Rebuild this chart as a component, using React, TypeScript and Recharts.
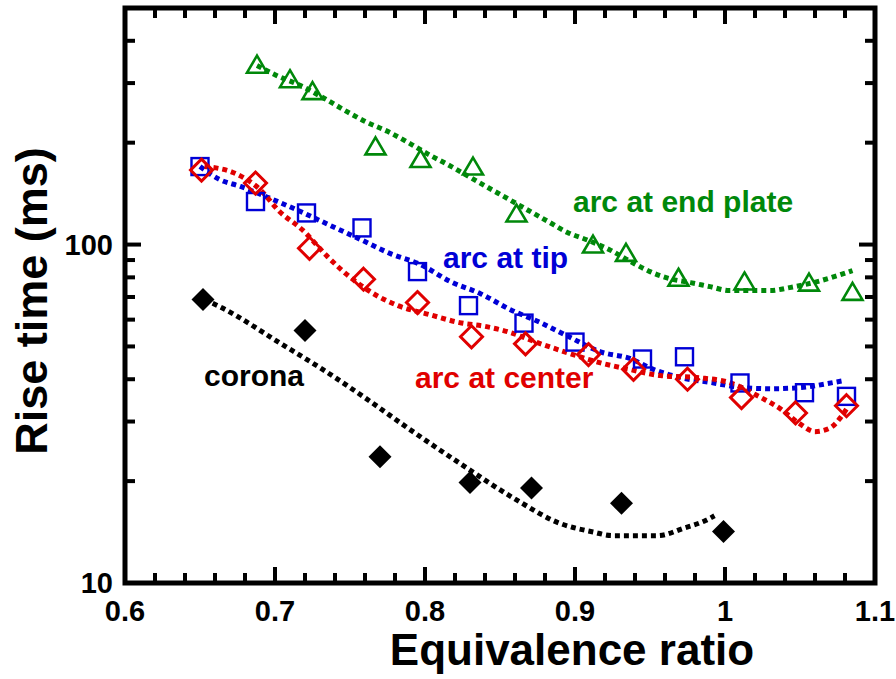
import {
  ComposedChart,
  Line,
  Scatter,
  XAxis,
  YAxis,
  Customized,
} from "recharts"

// measured data (equivalence ratio vs rise time, ms)
const phiEnd = [0.688, 0.71, 0.725, 0.767, 0.797, 0.832, 0.861, 0.912, 0.934, 0.969, 1.013, 1.056, 1.085]
const riseEnd = [340, 308, 284, 195, 179, 170, 123.5, 100, 94.5, 79.8, 77.8, 77.2, 72.5]

const phiTip = [0.65, 0.687, 0.721, 0.758, 0.795, 0.829, 0.866, 0.9, 0.945, 0.973, 1.01, 1.053, 1.081]
const riseTip = [170, 134, 124, 112, 83.2, 66, 58.6, 51.5, 45.9, 46.6, 39, 36.5, 35.6]

const phiCenter = [0.651, 0.687, 0.723, 0.759, 0.795, 0.831, 0.867, 0.909, 0.939, 0.975, 1.011, 1.047, 1.081]
const riseCenter = [166, 152, 97.5, 79, 67.4, 53.4, 50.9, 47.3, 42.8, 40, 35.3, 31.8, 33.4]

const phiCorona = [0.652, 0.72, 0.77, 0.83, 0.871, 0.931, 0.999]
const riseCorona = [68.8, 55.7, 23.6, 19.8, 19.1, 17.2, 14.2]

// fitted trend curves
const fitEndX = [0.688, 0.701, 0.717, 0.735, 0.748, 0.761, 0.775, 0.789, 0.802, 0.815, 0.829, 0.842, 0.855, 0.869, 0.882, 0.895, 0.909, 0.923, 0.937, 0.95, 0.963, 0.977, 0.99, 1.003, 1.03, 1.043, 1.059, 1.077, 1.085]
const fitEndY = [338, 316, 295, 267, 247, 230, 216, 200, 185, 172.5, 159, 147.4, 136.8, 126.1, 117, 108.6, 102.8, 96.6, 89.1, 83.2, 79.3, 77.2, 75.1, 73.1, 73.1, 74.6, 77.2, 81.5, 83.8]

const fitTipX = [0.65, 0.663, 0.677, 0.697, 0.717, 0.737, 0.757, 0.777, 0.797, 0.817, 0.837, 0.857, 0.877, 0.897, 0.917, 0.937, 0.951, 0.971, 0.991, 1.011, 1.031, 1.051, 1.072, 1.079]
const fitTipY = [170, 155.7, 148.5, 136.8, 125.2, 113.8, 103.5, 94, 87.3, 77.7, 71.6, 64.2, 58.8, 53.1, 48.2, 46, 43, 40.4, 39.1, 37.8, 37.5, 37.8, 39.1, 39.6]

const fitCenterX = [0.653, 0.672, 0.69, 0.703, 0.718, 0.735, 0.748, 0.768, 0.782, 0.803, 0.823, 0.841, 0.855, 0.875, 0.895, 0.917, 0.937, 0.957, 0.983, 1.003, 1.023, 1.037, 1.05, 1.06, 1.07, 1.077, 1.082]
const fitCenterY = [170, 163.3, 145.4, 125.2, 110.8, 92.1, 81.5, 70.6, 66, 62.1, 58.8, 57.2, 55.3, 51.3, 47.9, 44.7, 42.7, 41, 40.4, 39.1, 35.5, 32.7, 29.5, 28, 28.7, 30.8, 33.2]

const fitCoronaX = [0.653, 0.663, 0.705, 0.732, 0.759, 0.792, 0.825, 0.861, 0.89, 0.912, 0.925, 0.955, 0.973, 0.987, 0.993]
const fitCoronaY = [68.8, 65.6, 50.6, 42.7, 35.5, 28, 22.3, 17.6, 15, 14.15, 13.8, 13.8, 14.55, 15.3, 15.8]

const xTicks = [0.6, 0.62, 0.64, 0.66, 0.68, 0.7, 0.72, 0.74, 0.76, 0.78, 0.8, 0.82, 0.84, 0.86, 0.88, 0.9, 0.92, 0.94, 0.96, 0.98, 1, 1.02, 1.04, 1.06, 1.08, 1.1]
const yTicks = [10, 20, 30, 40, 50, 60, 70, 80, 90, 100, 200, 300, 400, 500]
const xMajor = [0.6, 0.7, 0.8, 0.9, 1, 1.1]
const yMajor = [10, 100]

const zip = (xs: number[], ys: number[]) => xs.map((x, i) => ({ x, y: ys[i] }))

const GREEN = "#00880a"
const BLUE = "#0000d6"
const RED = "#e00000"
const BLACK = "#000"

const W = 896
const H = 679
const LEFT = 125
const RIGHT = 875
const TOP = 8
const BOTTOM = 583
const FONT = "'Liberation Sans', Arial, Helvetica, sans-serif"
const bold = { fontFamily: FONT, fontWeight: 700 }

const isXMajor = (v: number) => xMajor.some((m) => Math.abs(m - v) < 1e-6)

// each tick draws its own inward marks (bottom+top or left+right) and, if major, its label
function renderXTick(props: any) {
  const { x, payload } = props
  const v = payload.value
  const major = isXMajor(v)
  const len = major ? 16 : 10
  return (
    <g key={`xt-${v}`}>
      <rect x={x - 2} y={BOTTOM - len} width={4} height={len} fill="#000" />
      <rect x={x - 2} y={TOP} width={4} height={len} fill="#000" />
      {major && (
        <text x={x} y={621} textAnchor="middle" fontSize={29} fill="#000" style={bold}>
          {String(Math.round(v * 10) / 10)}
        </text>
      )}
    </g>
  )
}

function renderYTick(props: any) {
  const { y, payload } = props
  const v = payload.value
  const major = yMajor.includes(v)
  const len = major ? 16 : 10
  return (
    <g key={`yt-${v}`}>
      <rect x={LEFT} y={y - 2} width={len} height={4} fill="#000" />
      <rect x={RIGHT - len} y={y - 2} width={len} height={4} fill="#000" />
      {major && (
        <text x={113} y={y + 10} textAnchor="end" fontSize={29} fill="#000" style={bold}>
          {v}
        </text>
      )}
    </g>
  )
}

const triangle = (p: any) => (
  <path
    d={`M${p.cx},${p.cy - 9} L${p.cx + 10},${p.cy + 8} L${p.cx - 10},${p.cy + 8} Z`}
    fill="none"
    stroke={GREEN}
    strokeWidth={2.6}
  />
)
const square = (p: any) => (
  <rect x={p.cx - 8.5} y={p.cy - 8.5} width={17} height={17} fill="none" stroke={BLUE} strokeWidth={2.4} />
)
const diamond = (p: any) => (
  <path
    d={`M${p.cx},${p.cy - 11} L${p.cx + 11},${p.cy} L${p.cx},${p.cy + 11} L${p.cx - 11},${p.cy} Z`}
    fill="none"
    stroke={RED}
    strokeWidth={3}
  />
)
const filledDiamond = (p: any) => (
  <path
    d={`M${p.cx},${p.cy - 11.5} L${p.cx + 11.5},${p.cy} L${p.cx},${p.cy + 11.5} L${p.cx - 11.5},${p.cy} Z`}
    fill={BLACK}
  />
)

function Annotations() {
  return (
    <g>
      <rect x={LEFT} y={TOP} width={RIGHT - LEFT} height={BOTTOM - TOP} fill="none" stroke="#000" strokeWidth={5} />
      <text x={573} y={212} fontSize={30} fill={GREEN} style={bold}>arc at end plate</text>
      <text x={443} y={268} fontSize={30} fill={BLUE} style={bold}>arc at tip</text>
      <text x={415} y={388} fontSize={30} fill={RED} style={bold}>arc at center</text>
      <text x={204} y={386} fontSize={30} fill={BLACK} style={bold}>corona</text>
      <text x={572} y={665} textAnchor="middle" fontSize={44} fill="#000" style={bold}>Equivalence ratio</text>
      <text transform="translate(47, 301) rotate(-90)" textAnchor="middle" fontSize={45} fill="#000" style={bold}>
        Rise time (ms)
      </text>
    </g>
  )
}

const lineStyle = { strokeWidth: 5, strokeDasharray: "5 4", dot: false, isAnimationActive: false }

export default function App() {
  return (
    <div style={{ position: "absolute", left: 0, top: 0, width: W, height: H, background: "#fff" }}>
      <ComposedChart width={W} height={H} margin={{ top: TOP, right: W - RIGHT, bottom: 0, left: 0 }}>
        <XAxis
          type="number"
          dataKey="x"
          domain={[0.6, 1.1]}
          ticks={xTicks}
          interval={0}
          tick={renderXTick}
          tickLine={false}
          axisLine={false}
          height={H - BOTTOM}
          allowDataOverflow
        />
        <YAxis
          type="number"
          dataKey="y"
          scale="log"
          domain={[10, 500]}
          ticks={yTicks}
          interval={0}
          tick={renderYTick}
          tickLine={false}
          axisLine={false}
          width={LEFT}
          allowDataOverflow
        />
        <Line data={zip(fitEndX, fitEndY)} dataKey="y" type="monotone" stroke={GREEN} {...lineStyle} />
        <Line data={zip(fitTipX, fitTipY)} dataKey="y" type="monotone" stroke={BLUE} {...lineStyle} />
        <Line data={zip(fitCenterX, fitCenterY)} dataKey="y" type="monotone" stroke={RED} {...lineStyle} />
        <Line data={zip(fitCoronaX, fitCoronaY)} dataKey="y" type="monotone" stroke={BLACK} {...lineStyle} />
        <Scatter data={zip(phiEnd, riseEnd)} dataKey="y" shape={triangle} isAnimationActive={false} />
        <Scatter data={zip(phiTip, riseTip)} dataKey="y" shape={square} isAnimationActive={false} />
        <Scatter data={zip(phiCenter, riseCenter)} dataKey="y" shape={diamond} isAnimationActive={false} />
        <Scatter data={zip(phiCorona, riseCorona)} dataKey="y" shape={filledDiamond} isAnimationActive={false} />
        <Customized component={Annotations} />
      </ComposedChart>
    </div>
  )
}
